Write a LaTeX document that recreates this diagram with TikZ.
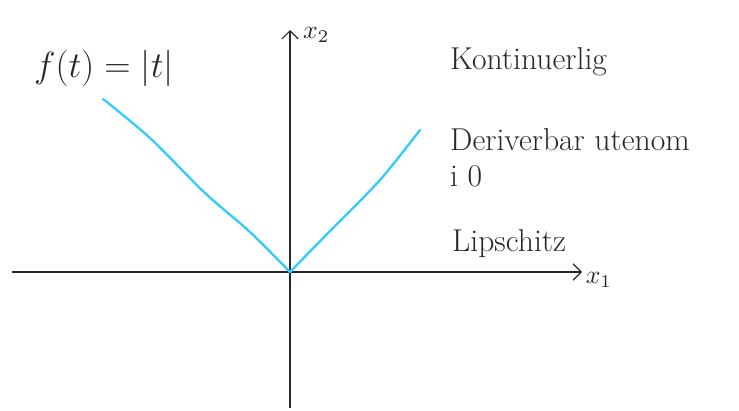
\documentclass[tikz,border=0pt]{standalone}
\usepackage{amsmath}
\usepackage{tikz}
\usetikzlibrary{arrows.meta, positioning}
\definecolor{blaaKurve}{RGB}{51,204,255}
\definecolor{blyant}{RGB}{40,40,40}
\newcommand{\stormat}[2]{\scalebox{#1}{$#2$}}

\begin{document}
\begin{tikzpicture}[
  x=0.03cm, y=-0.03cm,
  akse/.style={-{Straight Barb[length=7pt,width=14pt]}, line width=1pt, color=blyant},
  kurve/.style={line width=2pt, color=blaaKurve, line join=round, line cap=round},
  merk/.style={font=\fontsize{27}{31}\selectfont, color=blyant, anchor=west, align=left},
  akselabel/.style={color=blyant, inner sep=1pt}
]
  \useasboundingbox (0,0) rectangle (739,410);

  % akser
  \coordinate (xstart) at (12,272);
  \coordinate (xslutt) at (582,272);
  \coordinate (ystart) at (290,408);
  \coordinate (yslutt) at (290,30);
  \coordinate (origo) at (290,272);
  \draw[akse] (xstart) -- (xslutt);
  \draw[akse] (ystart) -- (yslutt);
  \node[akselabel, right=2pt of xslutt, yshift=-7pt] (xen) {\stormat{2.2}{x_1}};
  \node[akselabel, right=10pt of yslutt, yshift=-4pt] (xto) {\stormat{2.2}{x_2}};

  % f(t) = |t|
  \coordinate (venstre) at (103,99);
  \coordinate (hoyre) at (420,130);
  \draw[kurve] plot[smooth, tension=0.5] coordinates {(venstre) (150,138) (205,193) (250,232) (origo)};
  \draw[kurve] plot[smooth, tension=0.5] coordinates {(origo) (330,231) (380,180) (hoyre)};
  \node[merk] (funk) at (30,68) {\stormat{1.25}{f(t)=|t|}};

  % egenskaper
  \node[merk] (kont) at (446,62) {Kontinuerlig};
  \node[merk] (deriv) at (446,158) {Deriverbar utenom\\i 0};
  \node[merk] (lip) at (448,244) {Lipschitz};
\end{tikzpicture}
\end{document}
